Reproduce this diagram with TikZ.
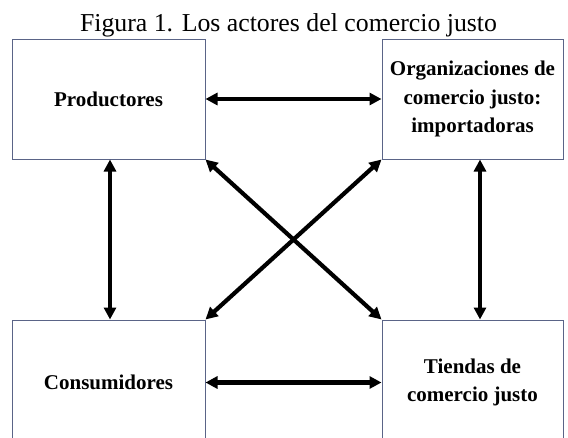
\documentclass[tikz,border=0pt]{standalone}
\usepackage{fontspec}
\setmainfont{Liberation Serif}
\usetikzlibrary{arrows.meta}
\definecolor{boxline}{RGB}{90,100,135}
\tikzset{
  box/.style={draw=boxline, line width=1pt, fill=white, rectangle, align=center,
    font=\bfseries\fontsize{21}{28.5}\selectfont, inner sep=0pt},
  arr/.style={line width=4.2pt, {Triangle[length=12pt,width=12pt]}-{Triangle[length=12pt,width=12pt]}},
  titletext/.style={font=\fontsize{25.8}{30}\selectfont, anchor=base, inner sep=0pt}
}
\begin{document}
\begin{tikzpicture}[x=1pt,y=-1pt]
\useasboundingbox (0,0) rectangle (568,437);
\clip (0,0) rectangle (568,437);
\fill[white] (0,0) rectangle (568,437);
\node[titletext] (title) at (288.5,31) {Figura 1. Los actores del comercio justo};
\node[box, minimum width=193pt, minimum height=120pt] (P) at (108.5,99) {Productores};
\node[box, minimum width=181pt, minimum height=120pt] (O) at (472.5,99) {Organizaciones de\\comercio justo:\\importadoras};
\node[box, minimum width=193pt, minimum height=125pt] (C) at (108.5,382.5) {Consumidores};
\node[box, minimum width=181pt, minimum height=125pt] (T) at (472.5,382.5) {Tiendas de\\comercio justo};
\draw[arr] (P.east) -- (O.west);
\draw[arr] (C.east) -- (T.west);
\draw[arr] ([xshift=1.5pt]P.south) -- ([xshift=1.5pt]C.north);
\draw[arr] ([xshift=7.5pt]O.south) -- ([xshift=7.5pt]T.north);
\draw[arr] (P.south east) -- (T.north west);
\draw[arr] (O.south west) -- (C.north east);
\end{tikzpicture}
\end{document}
